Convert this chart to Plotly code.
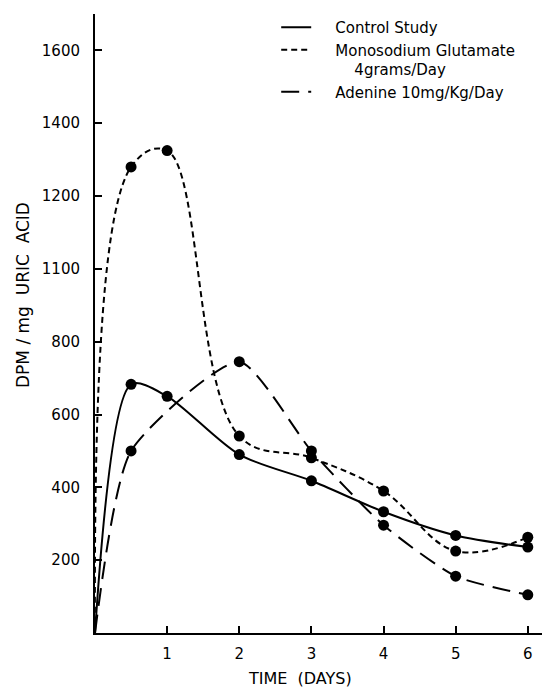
import plotly.graph_objects as go

# ---- data ----
days = [0, 0.5, 1, 2, 3, 4, 5, 6]
control = [0, 683, 650, 490, 418, 333, 268, 236]
msg_days = [0, 0.5, 1, 2, 3, 4, 5, 6]
msg = [0, 1280, 1325, 541, 481, 390, 225, 263]
aden_days = [0, 0.5, 2, 3, 4, 5, 6]
adenine = [0, 500, 745, 500, 296, 156, 105]

x_tick_vals = [1, 2, 3, 4, 5, 6]
x_tick_text = ["1", "2", "3", "4", "5", "6"]
y_tick_vals = [200, 400, 600, 800, 1000, 1200, 1400, 1600]
y_tick_text = ["200", "400", "600", "800", "1100", "1200", "1400", "1600"]

NB = "\u00a0"
names = [NB * 4 + "Control Study",
         NB * 4 + "Monosodium Glutamate<br>" + NB * 8 + "4grams/Day",
         NB * 4 + "Adenine 10mg/Kg/Day"]

FONT = "DejaVu Sans"
fig = go.Figure()

series = [(days, control, "solid", 0.8), (msg_days, msg, "6px,4px", 1.1), (aden_days, adenine, "18px,9px", 0.6)]
for (xs, ys, dash, sm), name in zip(series, names):
    fig.add_trace(go.Scatter(
        x=xs, y=ys, mode="lines", name=name,
        line=dict(color="black", width=2, dash=dash, shape="spline", smoothing=sm),
        showlegend=True, hoverinfo="skip"))
for xs, ys, _, _ in series:
    fig.add_trace(go.Scatter(
        x=xs[1:], y=ys[1:], mode="markers",
        marker=dict(color="black", size=11),
        showlegend=False))

fig.update_layout(
    width=542, height=682,
    paper_bgcolor="white", plot_bgcolor="white",
    margin=dict(l=87, r=2, t=6, b=57, autoexpand=False),
    font=dict(family=FONT, color="black", size=14),
    legend=dict(x=0.40, y=1.005, xanchor="left", yanchor="top",
                bgcolor="rgba(0,0,0,0)", borderwidth=0,
                font=dict(size=15, family=FONT), valign="top",
                itemwidth=30, tracegroupgap=0),
    showlegend=True,
    annotations=[
        dict(text="TIME  (DAYS)", x=0.4525, y=-0.0727, xref="paper", yref="paper",
             xanchor="center", yanchor="middle", showarrow=False,
             font=dict(size=16, family=FONT)),
        dict(text="DPM / mg  URIC  ACID", x=-0.159, y=0.546, xref="paper", yref="paper",
             xanchor="center", yanchor="middle", showarrow=False, textangle=-90,
             font=dict(size=17, family=FONT)),
    ],
)
fig.update_xaxes(
    range=[0, 6.28], showgrid=False, zeroline=False, automargin=False,
    showline=True, linecolor="black", linewidth=2,
    ticks="inside", ticklen=7, tickwidth=1.5, tickcolor="black",
    tickvals=x_tick_vals, ticktext=x_tick_text,
    tickfont=dict(size=15, family=FONT), ticklabelstandoff=6,
)
fig.update_yaxes(
    range=[0, 1700], showgrid=False, zeroline=False, automargin=False,
    showline=True, linecolor="black", linewidth=2,
    ticks="inside", ticklen=7, tickwidth=1.5, tickcolor="black",
    tickvals=y_tick_vals, ticktext=y_tick_text,
    tickfont=dict(size=15, family=FONT), ticklabelstandoff=10,
)

fig.write_html("out.html")
